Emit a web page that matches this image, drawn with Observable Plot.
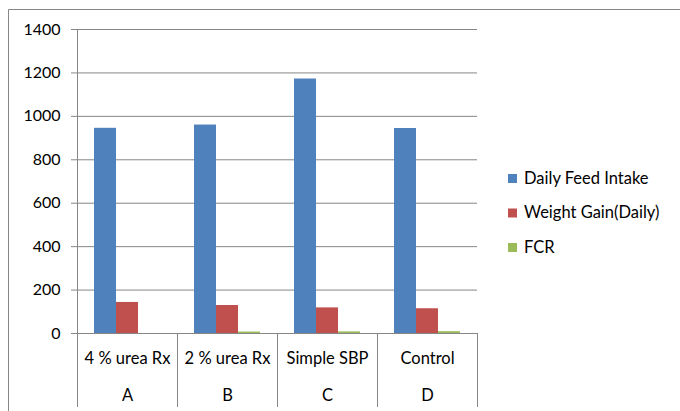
<!DOCTYPE html>
<html><head><meta charset="utf-8">
<script src="https://cdn.jsdelivr.net/npm/d3@7"></script>
<script src="https://cdn.jsdelivr.net/npm/@observablehq/plot@0.6"></script>
<style>
body{margin:0;background:#fff}
#chart svg [aria-label^="y-axis"] line, #chart svg [aria-label^="y-axis"] path{stroke:#868686}
</style>
</head><body><div id="chart"></div>
<script>
const categories = ["4 % urea Rx", "2 % urea Rx", "Simple SBP", "Control"];
const groups = ["A", "B", "C", "D"];
const series = ["Daily Feed Intake", "Weight Gain(Daily)", "FCR"];
const feedIntake = [945, 960, 1172, 944];
const weightGain = [143, 129, 118, 114];
const fcr = [0, 6.6, 7.5, 8.3];
const yTicks = [0, 200, 400, 600, 800, 1000, 1200, 1400];
const colors = ["#4F81BD", "#C0504D", "#9BBB59"];

const valuesBySeries = [feedIntake, weightGain, fcr];
const data = categories.flatMap((c, i) => series.map((s, j) => ({cat: c, series: s, value: valuesBySeries[j][i]})));
const labels = categories.map((c, i) => ({cat: c, group: groups[i]}));

const W = 680, H = 411;
const plot = Plot.plot({
  width: W, height: H,
  marginLeft: 76, marginRight: 202, marginTop: 29, marginBottom: 78,
  style: {fontFamily: "Lato, sans-serif", fontSize: "16px", color: "#000", background: "#fff", overflow: "visible"},
  fx: {domain: categories, padding: 0, axis: null},
  x: {domain: series, paddingInner: 0, paddingOuter: 0.74, axis: null},
  y: {domain: [0, 1400], ticks: yTicks, tickSize: 6, tickPadding: 11, label: null, tickFormat: d => String(d)},
  color: {domain: series, range: colors},
  marks: [
    Plot.ruleY(yTicks, {stroke: "#868686", strokeWidth: 1}),
    Plot.barY(data, {fx: "cat", x: "series", y: "value", fill: "series"}),
    Plot.text(labels, {fx: "cat", text: "cat", frameAnchor: "bottom", dy: 30, fill: "#000", fontSize: 16.5}),
    Plot.text(labels, {fx: "cat", text: "group", frameAnchor: "bottom", dy: 67, fill: "#000", fontSize: 16.5})
  ]
});

const svg = d3.select(plot);
const fx = plot.scale("fx");
const y = plot.scale("y");
const color = plot.scale("color");
const bottom = H - 4;
const g = svg.append("g").attr("stroke", "#868686").attr("stroke-width", 1);
categories.forEach((c, i) => {
  const x0 = Math.round(fx.apply(c)) + 0.5;
  g.append("line").attr("x1", x0).attr("x2", x0)
    .attr("y1", i === 0 ? y.apply(1400) : y.apply(0)).attr("y2", bottom);
});
const xEnd = Math.round(fx.apply(categories[categories.length - 1]) + fx.bandwidth) + 0.5;
g.append("line").attr("x1", xEnd).attr("x2", xEnd).attr("y1", y.apply(0)).attr("y2", bottom);
// outer chart border
g.append("line").attr("x1", 8.5).attr("x2", W).attr("y1", 9.5).attr("y2", 9.5);
g.append("line").attr("x1", 8.5).attr("x2", 8.5).attr("y1", 9.5).attr("y2", H);

// legend
const lg = svg.append("g").attr("font-family", "Lato, sans-serif").attr("font-size", 16.5).attr("text-anchor", "start");
series.forEach((s, i) => {
  const cy = 178 + i * 34.5;
  lg.append("rect").attr("x", 508).attr("y", cy - 4).attr("width", 9).attr("height", 9).attr("fill", color.apply(s));
  lg.append("text").attr("x", 524).attr("y", cy).attr("dy", "0.35em").attr("fill", "#000").text(s);
});

document.getElementById("chart").appendChild(plot);
</script>
</body></html>
